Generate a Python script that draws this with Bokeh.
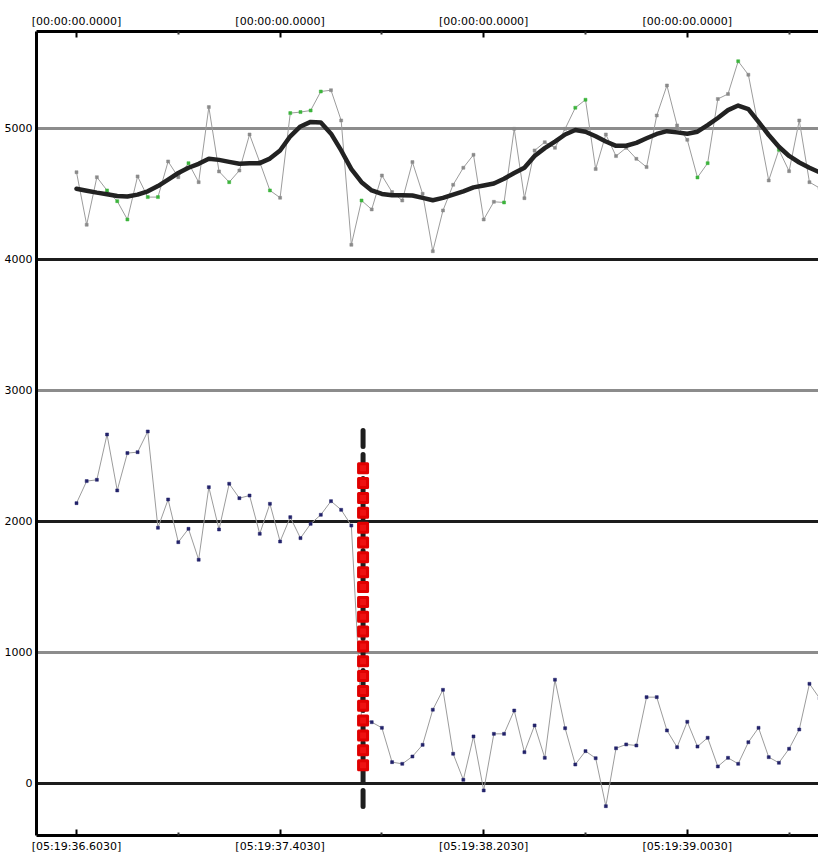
from bokeh.plotting import figure
from bokeh.models import Range1d, FixedTicker, LinearAxis, Span, ColumnDataSource
from bokeh.embed import file_html
from bokeh.resources import INLINE

# ---- data ----
sample_idx = list(range(74))  # 25 Hz samples, index 0 = 05:19:36.6030

upper_values = [4666, 4265, 4628, 4527, 4445, 4305, 4634, 4476, 4476, 4748,
                4628, 4735, 4590, 5163, 4672, 4590, 4679, 4954, 4743, 4527,
                4471, 5117, 5125, 5137, 5282, 5292, 5061, 4112, 4450, 4382,
                4641, 4514, 4450, 4743, 4501, 4063, 4374, 4570, 4700, 4799,
                4305, 4440, 4435, 4997, 4468, 4832, 4895, 4852, 4997, 5158,
                5219, 4690, 4954, 4789, 4852, 4768, 4705, 5099, 5328, 5023,
                4913, 4626, 4735, 5225, 5263, 5513, 5410, 5010, 4603, 4837,
                4674, 5061, 4590, 4545]

upper_green_idx = [3, 4, 5, 7, 8, 11, 15, 19, 21, 22, 23, 24, 28, 42, 49, 50, 61, 62, 65, 69]

upper_smooth = [4540, 4525, 4510, 4498, 4485, 4481, 4495, 4520, 4560, 4610,
                4660, 4700, 4730, 4769, 4760, 4745, 4730, 4735, 4735, 4770,
                4832, 4940, 5015, 5050, 5045, 4960, 4832, 4690, 4590, 4527,
                4500, 4490, 4490, 4488, 4470, 4452, 4470, 4495, 4520, 4550,
                4565, 4580, 4616, 4660, 4700, 4790, 4850, 4900, 4954, 4988,
                4975, 4940, 4900, 4867, 4868, 4890, 4925, 4958, 4979, 4970,
                4960, 4975, 5025, 5080, 5140, 5175, 5148, 5050, 4950, 4860,
                4790, 4740, 4700, 4665]

lower_values = [2140, 2308, 2318, 2664, 2237, 2522, 2529, 2687, 1952, 2168,
                1842, 1944, 1708, 2262, 1939, 2288, 2178, 2198, 1906, 2135,
                1847, 2033, 1873, 1982, 2051, 2155, 2089, 1969, 500, 468,
                425, 163, 150, 206, 295, 563, 715, 227, 28, 359,
                -53, 379, 379, 557, 239, 443, 196, 792, 422, 145,
                247, 193, -173, 269, 298, 290, 659, 659, 405, 277,
                471, 282, 349, 130, 196, 150, 315, 425, 201, 158,
                265, 412, 761, 650]

event_sample = 28.15
event_line_span = [2695, -190]
event_marker_values = [140, 253, 366, 480, 593, 706, 820, 933, 1046, 1160, 1273,
                       1386, 1500, 1613, 1726, 1840, 1953, 2066, 2180, 2293, 2406]

x_major_ticks = [0, 20, 40, 60]
x_minor_ticks = [-10, 10, 30, 50, 70]
bottom_tick_labels = ["[05:19:36.6030]", "[05:19:37.4030]", "[05:19:38.2030]", "[05:19:39.0030]"]
top_tick_labels = ["[00:00:00.0000]", "[00:00:00.0000]", "[00:00:00.0000]", "[00:00:00.0000]"]
y_ticks = [0, 1000, 2000, 3000, 4000, 5000]
y_dark_lines = [0, 2000, 4000]
y_light_lines = [1000, 3000, 5000]

# ---- figure ----
FONT = "DejaVu Sans"
p = figure(width=818, height=856, output_backend="svg", toolbar_location=None,
           x_range=Range1d(-3.93, 72.89), y_range=Range1d(-397, 5740),
           min_border_left=36, min_border_right=0, min_border_top=31, min_border_bottom=21,
           background_fill_color="white", border_fill_color="white")
p.outline_line_color = None
p.xgrid.visible = False
p.ygrid.visible = False


def style_axis(ax, ticker, overrides, tick_in, minor_in, standoff):
    ax.ticker = ticker
    ax.axis_line_color = "black"
    ax.axis_line_width = 3
    ax.major_tick_in = tick_in
    ax.major_tick_out = 0
    ax.minor_tick_in = minor_in
    ax.minor_tick_out = 0
    ax.major_tick_line_color = "black"
    ax.major_tick_line_width = 2
    ax.minor_tick_line_color = "#333333"
    ax.minor_tick_line_width = 2
    ax.major_label_text_font = FONT
    ax.major_label_text_font_size = "11px"
    ax.major_label_text_color = "black"
    ax.major_label_standoff = standoff
    if overrides is not None:
        ax.major_label_overrides = overrides


xticker = FixedTicker(ticks=x_major_ticks, minor_ticks=x_minor_ticks)
style_axis(p.xaxis[0], xticker, {t: l for t, l in zip(x_major_ticks, bottom_tick_labels)}, 6, 3, 4)
style_axis(p.yaxis[0], FixedTicker(ticks=y_ticks, minor_ticks=[]), None, 0, 0, 4)

top_axis = LinearAxis()
style_axis(top_axis, FixedTicker(ticks=x_major_ticks, minor_ticks=x_minor_ticks),
           {t: l for t, l in zip(x_major_ticks, top_tick_labels)}, 6, 3, 4)
p.add_layout(top_axis, "above")

for v in y_light_lines:
    p.add_layout(Span(location=v, dimension="width", line_color="#8c8c8c",
                      line_width=3, level="underlay"))
for v in y_dark_lines:
    p.add_layout(Span(location=v, dimension="width", line_color="#1c1c1c",
                      line_width=3, level="underlay"))

# upper series
upper_colors = ["#3cb43c" if i in upper_green_idx else "#8a8a8a" for i in sample_idx]
up_src = ColumnDataSource(dict(x=sample_idx, y=upper_values, c=upper_colors))
p.line("x", "y", source=up_src, line_color="#9c9c9c", line_width=1)
p.scatter("x", "y", source=up_src, marker="square", size=3, fill_color="c", line_color="c", line_width=0.5)
p.line(sample_idx, upper_smooth, line_color="#222222", line_width=4.5, line_join="round", line_cap="round")

# lower series
p.line(sample_idx, lower_values, line_color="#9c9c9c", line_width=1)
p.scatter(sample_idx, lower_values, marker="square", size=3, fill_color="#22226a",
          line_color="#22226a", line_width=0.5)

# event marker
p.line([event_sample, event_sample], event_line_span, line_color="#1e1e1e", line_width=5,
       line_dash="16 8", line_cap="round")
p.scatter([event_sample] * len(event_marker_values), event_marker_values, marker="square",
          size=9, fill_color="#ee1111", line_color="#e00000", line_width=3, line_join="round")

open("out.html", "w").write(file_html(p, INLINE))
